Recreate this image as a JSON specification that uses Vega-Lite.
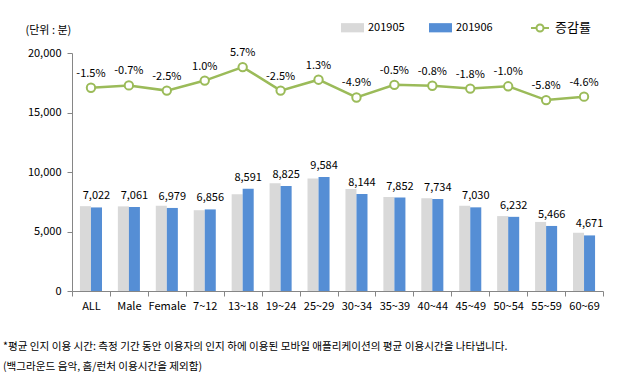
{
  "$schema": "https://vega.github.io/schema/vega-lite/v6.json",
  "autosize": {"type": "none"},
  "padding": {"left": 72, "top": 53, "right": 27, "bottom": 89},
  "width": 531,
  "height": 238,
  "background": "white",
  "config": {
    "font": "Noto Sans CJK KR",
    "view": {"stroke": null},
    "axis": {"labelFont": "Noto Sans CJK KR", "labelColor": "#000000", "labelFontSize": 11, "domainColor": "#868686", "tickColor": "#868686", "grid": false}
  },
  "title": {
    "text": ["*평균 인지 이용 시간: 측정 기간 동안 이용자의 인지 하에 이용된 모바일 애플리케이션의 평균 이용시간을 나타냅니다.", " (백그라운드 음악, 홈/런처 이용시간을 제외함)"],
    "orient": "bottom",
    "anchor": "start",
    "frame": "group",
    "dx": -69,
    "offset": 31,
    "fontSize": 10.6,
    "fontWeight": "normal",
    "color": "#000000",
    "lineHeight": 20
  },
  "datasets": {
    "bars": [
      {"cat": "ALL", "series": "201905", "value": 7129},
      {"cat": "ALL", "series": "201906", "value": 7022},
      {"cat": "Male", "series": "201905", "value": 7111},
      {"cat": "Male", "series": "201906", "value": 7061},
      {"cat": "Female", "series": "201905", "value": 7158},
      {"cat": "Female", "series": "201906", "value": 6979},
      {"cat": "7~12", "series": "201905", "value": 6788},
      {"cat": "7~12", "series": "201906", "value": 6856},
      {"cat": "13~18", "series": "201905", "value": 8128},
      {"cat": "13~18", "series": "201906", "value": 8591},
      {"cat": "19~24", "series": "201905", "value": 9051},
      {"cat": "19~24", "series": "201906", "value": 8825},
      {"cat": "25~29", "series": "201905", "value": 9461},
      {"cat": "25~29", "series": "201906", "value": 9584},
      {"cat": "30~34", "series": "201905", "value": 8564},
      {"cat": "30~34", "series": "201906", "value": 8144},
      {"cat": "35~39", "series": "201905", "value": 7892},
      {"cat": "35~39", "series": "201906", "value": 7852},
      {"cat": "40~44", "series": "201905", "value": 7796},
      {"cat": "40~44", "series": "201906", "value": 7734},
      {"cat": "45~49", "series": "201905", "value": 7159},
      {"cat": "45~49", "series": "201906", "value": 7030},
      {"cat": "50~54", "series": "201905", "value": 6295},
      {"cat": "50~54", "series": "201906", "value": 6232},
      {"cat": "55~59", "series": "201905", "value": 5803},
      {"cat": "55~59", "series": "201906", "value": 5466},
      {"cat": "60~69", "series": "201905", "value": 4896},
      {"cat": "60~69", "series": "201906", "value": 4671}
    ],
    "rates": [
      {"cat": "ALL", "rate": -1.5, "label": "-1.5%"},
      {"cat": "Male", "rate": -0.7, "label": "-0.7%"},
      {"cat": "Female", "rate": -2.5, "label": "-2.5%"},
      {"cat": "7~12", "rate": 1.0, "label": "1.0%"},
      {"cat": "13~18", "rate": 5.7, "label": "5.7%"},
      {"cat": "19~24", "rate": -2.5, "label": "-2.5%"},
      {"cat": "25~29", "rate": 1.3, "label": "1.3%"},
      {"cat": "30~34", "rate": -4.9, "label": "-4.9%"},
      {"cat": "35~39", "rate": -0.5, "label": "-0.5%"},
      {"cat": "40~44", "rate": -0.8, "label": "-0.8%"},
      {"cat": "45~49", "rate": -1.8, "label": "-1.8%"},
      {"cat": "50~54", "rate": -1.0, "label": "-1.0%"},
      {"cat": "55~59", "rate": -5.8, "label": "-5.8%"},
      {"cat": "60~69", "rate": -4.6, "label": "-4.6%"}
    ]
  },
  "layer": [
    {
      "data": {"name": "bars"},
      "mark": {"type": "bar"},
      "encoding": {
        "x": {
          "field": "cat", "type": "nominal", "sort": null, "title": null,
          "scale": {"paddingInner": 0, "paddingOuter": 0},
          "axis": {"labelAngle": 0, "tickBand": "extent", "tickSize": 5, "labelPadding": 4, "labelFontSize": 11}
        },
        "xOffset": {"field": "series", "type": "nominal", "scale": {"paddingInner": 0, "paddingOuter": 0.72}},
        "y": {
          "field": "value", "type": "quantitative",
          "scale": {"domain": [0, 20000]},
          "axis": {"values": [0, 5000, 10000, 15000, 20000], "format": ",d", "tickSize": 5, "labelPadding": 6, "title": "(단위 : 분)", "titleAngle": 0, "titleAlign": "left", "titleBaseline": "middle", "titleX": -47, "titleY": -23, "titleFontSize": 11, "titleFontWeight": "normal", "titleColor": "#000000"}
        },
        "color": {
          "field": "series", "type": "nominal",
          "scale": {"domain": ["201905", "201906"], "range": ["#d9d9d9", "#558ed5"]},
          "legend": {"title": null, "orient": "none", "direction": "horizontal", "legendX": 269, "legendY": -37, "symbolType": "M-1,-0.4H1V0.4H-1Z", "symbolSize": 529, "symbolStrokeWidth": 0, "labelFontSize": 11, "labelFont": "Noto Sans CJK KR", "columnPadding": 24, "labelOffset": 4}
        }
      }
    },
    {
      "data": {"name": "bars"},
      "transform": [{"filter": "datum.series == '201906'"}],
      "mark": {"type": "text", "baseline": "bottom", "dy": -6, "fontSize": 11, "color": "#000000"},
      "encoding": {
        "x": {"field": "cat", "type": "nominal", "sort": null},
        "xOffset": {"field": "series", "type": "nominal"},
        "y": {"field": "value", "type": "quantitative", "scale": {"domain": [0, 20000]}, "axis": null},
        "text": {"field": "value", "type": "quantitative", "format": ",d"}
      }
    },
    {
      "data": {"name": "rates"},
      "mark": {"type": "line", "strokeWidth": 2.5},
      "encoding": {
        "x": {"field": "cat", "type": "nominal", "sort": null},
        "y": {"field": "rate", "type": "quantitative", "scale": {"domain": [-72.3, 10.6]}, "axis": null},
        "stroke": {
          "datum": "증감률",
          "scale": {"range": ["#9bbb59"]},
          "legend": {"title": null, "orient": "none", "legendX": 458, "legendY": -35, "symbolType": "M-1,0H-0.39M0.39,0H1M-0.39,0A0.39,0.39,0,1,0,0.39,0A0.39,0.39,0,1,0,-0.39,0", "symbolSize": 324, "symbolStrokeWidth": 2, "symbolFillColor": "#ffffff", "labelFontSize": 13, "labelFont": "Noto Sans CJK KR", "labelOffset": 5}
        }
      }
    },
    {
      "data": {"name": "rates"},
      "mark": {"type": "point", "filled": true, "fill": "#ffffff", "stroke": "#9bbb59", "strokeWidth": 2, "size": 70, "opacity": 1},
      "encoding": {
        "x": {"field": "cat", "type": "nominal", "sort": null},
        "y": {"field": "rate", "type": "quantitative", "scale": {"domain": [-72.3, 10.6]}, "axis": null}
      }
    },
    {
      "data": {"name": "rates"},
      "mark": {"type": "text", "baseline": "bottom", "dy": -9, "fontSize": 11, "color": "#000000"},
      "encoding": {
        "x": {"field": "cat", "type": "nominal", "sort": null},
        "y": {"field": "rate", "type": "quantitative", "scale": {"domain": [-72.3, 10.6]}, "axis": null},
        "text": {"field": "label", "type": "nominal"}
      }
    }
  ],
  "resolve": {"scale": {"y": "independent"}}
}
